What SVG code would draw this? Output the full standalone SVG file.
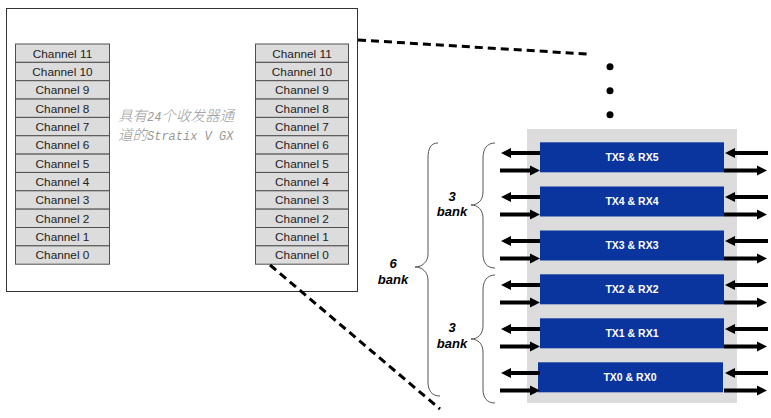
<svg xmlns="http://www.w3.org/2000/svg" width="771" height="418" viewBox="0 0 771 418">
<defs>
<style>
.ch rect{fill:#dcdcdc;stroke:#505050;stroke-width:1}
.ch text{font-family:"Liberation Sans",Arial,sans-serif;font-size:11.8px;fill:#222;text-anchor:middle}
.blk{fill:#0a349e}
.lbl{font-family:"Liberation Sans",Arial,sans-serif;font-size:10.5px;font-weight:bold;fill:#fff;text-anchor:middle}
.bk{font-family:"Liberation Sans",Arial,sans-serif;font-size:13px;font-weight:bold;font-style:italic;fill:#000;text-anchor:middle}
.brace{fill:none;stroke:#555;stroke-width:1}
.shaft{stroke:#000;stroke-width:4}
.dash{stroke:#000;stroke-width:3;stroke-dasharray:8,5;fill:none}
.cn{font-family:"Noto Sans CJK SC",sans-serif;font-size:14.5px;font-weight:300}
.mn{font-family:"Liberation Mono",monospace;font-size:12px}
</style>
<g id="arL"><line class="shaft" x1="509" y1="0" x2="540" y2="0"/><polygon points="501,0 511,-5 511,5" fill="#000"/></g>
<g id="arR"><line class="shaft" x1="500" y1="0" x2="531" y2="0"/><polygon points="540,0 530,-5 530,5" fill="#000"/></g>
<g id="arL2"><line class="shaft" x1="733" y1="0" x2="768" y2="0"/><polygon points="725,0 735,-5 735,5" fill="#000"/></g>
<g id="arR2"><line class="shaft" x1="724" y1="0" x2="758" y2="0"/><polygon points="767,0 757,-5 757,5" fill="#000"/></g>
</defs>
<rect width="771" height="418" fill="#fff"/>
<g id="device">
<rect x="6.5" y="8.5" width="351" height="283" fill="#fff" stroke="#333" stroke-width="1"/>
<text font-style="italic" fill="#999"><tspan x="118" y="121" class="cn">具有</tspan><tspan class="mn">24</tspan><tspan class="cn">个收发器通</tspan><tspan x="118" y="140" class="cn">道的</tspan><tspan class="mn">Stratix V GX</tspan></text>
</g>
<g id="leftChannels" class="ch">
<rect x="15.5" y="44" width="94" height="18.35"/><text x="62.5" y="57.5">Channel 11</text>
<rect x="15.5" y="62.35" width="94" height="18.35"/><text x="62.5" y="75.8">Channel 10</text>
<rect x="15.5" y="80.7" width="94" height="18.35"/><text x="62.5" y="94.2">Channel 9</text>
<rect x="15.5" y="99.05" width="94" height="18.35"/><text x="62.5" y="112.5">Channel 8</text>
<rect x="15.5" y="117.4" width="94" height="18.35"/><text x="62.5" y="130.9">Channel 7</text>
<rect x="15.5" y="135.75" width="94" height="18.35"/><text x="62.5" y="149.2">Channel 6</text>
<rect x="15.5" y="154.1" width="94" height="18.35"/><text x="62.5" y="167.6">Channel 5</text>
<rect x="15.5" y="172.45" width="94" height="18.35"/><text x="62.5" y="185.9">Channel 4</text>
<rect x="15.5" y="190.8" width="94" height="18.35"/><text x="62.5" y="204.3">Channel 3</text>
<rect x="15.5" y="209.15" width="94" height="18.35"/><text x="62.5" y="222.6">Channel 2</text>
<rect x="15.5" y="227.5" width="94" height="18.35"/><text x="62.5" y="241">Channel 1</text>
<rect x="15.5" y="245.85" width="94" height="18.35"/><text x="62.5" y="259.3">Channel 0</text>
</g>
<g id="rightChannels" class="ch">
<rect x="255.5" y="44" width="93" height="18.35"/><text x="302" y="57.5">Channel 11</text>
<rect x="255.5" y="62.35" width="93" height="18.35"/><text x="302" y="75.8">Channel 10</text>
<rect x="255.5" y="80.7" width="93" height="18.35"/><text x="302" y="94.2">Channel 9</text>
<rect x="255.5" y="99.05" width="93" height="18.35"/><text x="302" y="112.5">Channel 8</text>
<rect x="255.5" y="117.4" width="93" height="18.35"/><text x="302" y="130.9">Channel 7</text>
<rect x="255.5" y="135.75" width="93" height="18.35"/><text x="302" y="149.2">Channel 6</text>
<rect x="255.5" y="154.1" width="93" height="18.35"/><text x="302" y="167.6">Channel 5</text>
<rect x="255.5" y="172.45" width="93" height="18.35"/><text x="302" y="185.9">Channel 4</text>
<rect x="255.5" y="190.8" width="93" height="18.35"/><text x="302" y="204.3">Channel 3</text>
<rect x="255.5" y="209.15" width="93" height="18.35"/><text x="302" y="222.6">Channel 2</text>
<rect x="255.5" y="227.5" width="93" height="18.35"/><text x="302" y="241">Channel 1</text>
<rect x="255.5" y="245.85" width="93" height="18.35"/><text x="302" y="259.3">Channel 0</text>
</g>
<g id="connectors">
<line class="dash" x1="358" y1="40" x2="587" y2="54"/>
<line class="dash" x1="270" y1="265" x2="440" y2="409"/>
</g>
<g id="dots" fill="#000">
<circle cx="610" cy="66.7" r="3.5"/>
<circle cx="610" cy="90.7" r="3.5"/>
<circle cx="610" cy="114.7" r="3.5"/>
</g>
<g id="zoomed">
<rect x="527" y="129" width="210" height="274" fill="#dcdcdc"/>
<g id="tx5"><rect class="blk" x="540" y="142.3" width="184" height="30"/><text class="lbl" x="632" y="161">TX5 &amp; RX5</text></g>
<g id="tx4"><rect class="blk" x="540" y="186.5" width="184" height="30"/><text class="lbl" x="632" y="205">TX4 &amp; RX4</text></g>
<g id="tx3"><rect class="blk" x="540" y="230.5" width="184" height="30"/><text class="lbl" x="632" y="249">TX3 &amp; RX3</text></g>
<g id="tx2"><rect class="blk" x="540" y="274.3" width="184" height="30"/><text class="lbl" x="632" y="293">TX2 &amp; RX2</text></g>
<g id="tx1"><rect class="blk" x="540" y="318.3" width="184" height="30"/><text class="lbl" x="632" y="337">TX1 &amp; RX1</text></g>
<g id="tx0"><rect class="blk" x="538" y="362.3" width="185" height="30"/><text class="lbl" x="630" y="381">TX0 &amp; RX0</text></g>
</g>
<g id="arrows">
<use href="#arL" y="153"/><use href="#arR" y="170.5"/><use href="#arL2" y="153"/><use href="#arR2" y="170.5"/>
<use href="#arL" y="197"/><use href="#arR" y="214.5"/><use href="#arL2" y="197"/><use href="#arR2" y="214.5"/>
<use href="#arL" y="241"/><use href="#arR" y="258.5"/><use href="#arL2" y="241"/><use href="#arR2" y="258.5"/>
<use href="#arL" y="285"/><use href="#arR" y="302.5"/><use href="#arL2" y="285"/><use href="#arR2" y="302.5"/>
<use href="#arL" y="329"/><use href="#arR" y="346.5"/><use href="#arL2" y="329"/><use href="#arR2" y="346.5"/>
<use href="#arL" y="373"/><use href="#arR" y="390.5"/><use href="#arL2" y="373"/><use href="#arR2" y="390.5"/>
</g>
<g id="braces">
<path class="brace" d="M438,143 C431,143 428,148 428,158 L428,254 C428,262 422,267 415,267 C422,267 428,272 428,280 L428,382 C428,391 432,396 440,396"/>
<path class="brace" d="M495,143 C487,143 483,149 483,158 L483,192 C483,200 478,205 471,205 C478,205 483,210 483,218 L483,254 C483,263 487,268 495,268"/>
<path class="brace" d="M495,275 C487,275 483,281 483,290 L483,326 C483,334 478,339 471,339 C478,339 483,344 483,352 L483,389 C483,398 487,403 495,403"/>
</g>
<g id="labels">
<text class="bk" x="452" y="201">3</text><text class="bk" x="452" y="216">bank</text>
<text class="bk" x="393" y="268">6</text><text class="bk" x="393" y="284">bank</text>
<text class="bk" x="452" y="332">3</text><text class="bk" x="452" y="348">bank</text>
</g>
</svg>
